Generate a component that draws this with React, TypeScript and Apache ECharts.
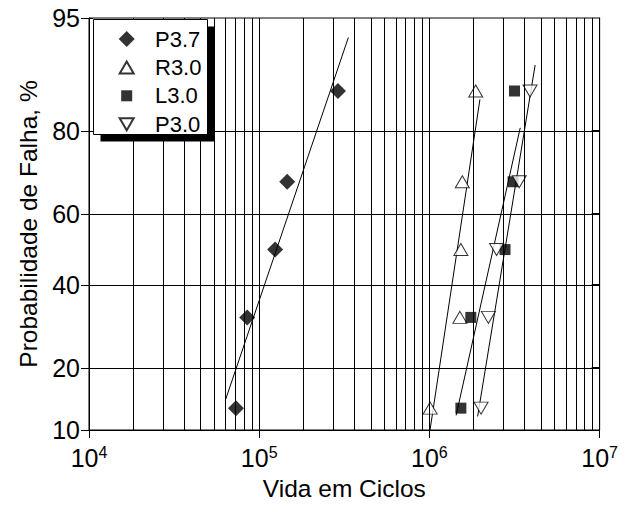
import React, { useEffect, useRef } from 'react';
import * as echarts from 'echarts';

// ---- data ----
const X_MIN = 1e4;
const X_MAX = 1e7;
const Y_MIN_P = 10;
const Y_MAX_P = 95;
const Y_TICKS = [10, 20, 40, 60, 80, 95];
const H_GRID = [20, 40, 60, 80];
const GRID_MULTIPLIERS = [1, 2, 3, 4, 5, 6, 7, 8, 9];
const GRID_DECADES = [4, 5, 6, 7];
const GRID_OFFSET = 0.906; // minor grid of the original is slightly shifted
const MAJOR_LINES = [1e5, 1e6];

const SERIES_NAMES = ['P3.7', 'R3.0', 'L3.0', 'P3.0'];
const PROB = [13, 31.5, 50, 68.5, 87];
const CYCLES_P37 = [73000, 85000, 124000, 146000, 290000];
const CYCLES_R30 = [1010000, 1510000, 1530000, 1560000, 1870000];
const CYCLES_L30 = [1530000, 1750000, 2780000, 3100000, 3160000];
const CYCLES_P30 = [2010000, 2220000, 2480000, 3370000, 3900000];

const FIT_P37_X = [63400, 334000];
const FIT_P37_P = [14.3, 93.4];
const FIT_R30_X = [1008000, 1980000];
const FIT_R30_P = [10, 85.7];
const FIT_L30_X = [1435000, 3416000];
const FIT_L30_P = [11.95, 80.65];
const FIT_P30_X = [1919000, 4178000];
const FIT_P30_P = [11.8, 90.5];

const FONT = '"Liberation Sans", Arial, Helvetica, sans-serif';

// inverse normal CDF (normal probability scale)
function probit(p: number): number {
  const a = [-3.969683028665376e1, 2.209460984245205e2, -2.759285104469687e2, 1.38357751867269e2, -3.066479806614716e1, 2.506628277459239];
  const b = [-5.447609879822406e1, 1.615858368580409e2, -1.556989798598866e2, 6.680131188771972e1, -1.328068155288572e1];
  const c = [-7.784894002430293e-3, -3.223964580411365e-1, -2.400758277161838, -2.549732539343734, 4.374664141464968, 2.938163982698783];
  const d = [7.784695709041462e-3, 3.224671290700398e-1, 2.445134137142996, 3.754408661907416];
  const plow = 0.02425;
  const phigh = 1 - plow;
  if (p < plow) {
    const q = Math.sqrt(-2 * Math.log(p));
    return (((((c[0] * q + c[1]) * q + c[2]) * q + c[3]) * q + c[4]) * q + c[5]) / ((((d[0] * q + d[1]) * q + d[2]) * q + d[3]) * q + 1);
  }
  if (p <= phigh) {
    const q = p - 0.5;
    const r = q * q;
    return ((((((a[0] * r + a[1]) * r + a[2]) * r + a[3]) * r + a[4]) * r + a[5]) * q) / (((((b[0] * r + b[1]) * r + b[2]) * r + b[3]) * r + b[4]) * r + 1);
  }
  const q = Math.sqrt(-2 * Math.log(1 - p));
  return -(((((c[0] * q + c[1]) * q + c[2]) * q + c[3]) * q + c[4]) * q + c[5]) / ((((d[0] * q + d[1]) * q + d[2]) * q + d[3]) * q + 1);
}
const pz = (pct: number) => probit(pct / 100);

export default function App() {
  const ref = useRef<HTMLDivElement>(null);

  useEffect(() => {
    if (!ref.current) return;
    const chart = echarts.init(ref.current, undefined, { renderer: 'svg' });

    const zMin = pz(Y_MIN_P);
    const zMax = pz(Y_MAX_P);
    const yTickZ = Y_TICKS.map(pz);
    const hGridZ = H_GRID.map(pz);

    const vGrid: number[] = [];
    GRID_DECADES.forEach((e) => {
      GRID_MULTIPLIERS.forEach((k) => {
        const v = k * Math.pow(10, e) * GRID_OFFSET;
        if (v > X_MIN && v < X_MAX) vGrid.push(v);
      });
    });
    MAJOR_LINES.forEach((v) => vGrid.push(v));

    const yLabel = (val: number) => {
      let best = 0;
      let bd = Infinity;
      yTickZ.forEach((z, i) => {
        const dd = Math.abs(z - val);
        if (dd < bd) {
          bd = dd;
          best = i;
        }
      });
      return String(Y_TICKS[best]);
    };

    const scatterData = (xs: number[]) => xs.map((x, i) => [x, pz(PROB[i])]);
    const fitData = (xs: number[], ps: number[]) => xs.map((x, i) => [x, pz(ps[i])]);

    const hollow = { color: '#fff', borderColor: '#000', borderWidth: 1 };

    const fitSeries = (name: string, xs: number[], ps: number[]) => ({
      name,
      type: 'line',
      data: fitData(xs, ps),
      showSymbol: false,
      symbol: 'none',
      lineStyle: { color: '#000', width: 1 },
      z: 2,
      silent: true,
    });

    // icons drawn in a 16x16 box (leading moveTo's fix the box size)
    const legendIcons: Record<string, string> = {
      'P3.7': 'path://M8,0L16,8L8,16L0,8Z',
      'R3.0': 'path://M0,0M16,16M1,14L8,2L15,14Z',
      'L3.0': 'path://M0,0M16,16M2.5,2.5L13.5,2.5L13.5,13.5L2.5,13.5Z',
      'P3.0': 'path://M0,0M16,16M1,2L15,2L8,14Z',
    };

    const option: any = {
      animation: false,
      backgroundColor: '#fff',
      textStyle: { fontFamily: FONT },
      grid: {
        left: 89,
        top: 18,
        width: 515,
        height: 414,
        show: true,
        borderColor: '#000',
        borderWidth: 1,
        backgroundColor: 'transparent',
      },
      legend: {
        show: true,
        orient: 'vertical',
        left: 117.7,
        top: 28,
        itemWidth: 16,
        itemHeight: 16,
        itemGap: 6.4,
        padding: 0,
        selectedMode: false,
        z: 11,
        formatter: (name: string) => `{t|${name}}`,
        textStyle: {
          color: '#000',
          fontFamily: FONT,
          rich: { t: { fontSize: 22, lineHeight: 20, color: '#000', fontFamily: FONT, padding: [0, 0, 0, 15.3] } },
        },
        data: SERIES_NAMES.map((n) => ({ name: n, icon: legendIcons[n] })),
      },
      graphic: [
        { type: 'rect', shape: { x: 100.5, y: 26.5, width: 114, height: 115 }, style: { fill: '#000' }, z: 9 },
        { type: 'rect', shape: { x: 93.5, y: 19.5, width: 114, height: 115 }, style: { fill: '#fff', stroke: '#000', lineWidth: 1 }, z: 10 },
      ],
      xAxis: [
        {
          type: 'log',
          logBase: 10,
          min: X_MIN,
          max: X_MAX,
          position: 'bottom',
          axisLine: { show: true, onZero: false, lineStyle: { color: '#000', width: 1 } },
          axisTick: { show: true, inside: false, length: 8, lineStyle: { color: '#000', width: 1 } },
          splitLine: { show: false },
          axisLabel: {
            margin: 14,
            color: '#000',
            formatter: (v: number) => `{b|10}{s|${Math.round(Math.log10(v))}}`,
            rich: {
              b: { fontSize: 25, lineHeight: 28, color: '#000', fontFamily: FONT },
              s: { fontSize: 16, lineHeight: 16, verticalAlign: 'top', color: '#000', fontFamily: FONT },
            },
          },
          name: 'Vida em Ciclos',
          nameLocation: 'middle',
          nameGap: 46,
          nameTextStyle: { fontSize: 24.5, color: '#000', fontFamily: FONT },
        },
        {
          type: 'log',
          logBase: 10,
          min: X_MIN,
          max: X_MAX,
          position: 'bottom',
          axisLine: { show: false, onZero: false },
          axisTick: { show: true, inside: true, length: 4, lineStyle: { color: '#000', width: 1 } },
          axisLabel: { show: false },
          splitLine: { show: false },
        },
      ],
      yAxis: [
        {
          type: 'value',
          min: zMin,
          max: zMax,
          position: 'left',
          axisLine: { show: true, onZero: false, lineStyle: { color: '#000', width: 1 } },
          axisTick: { show: true, inside: false, length: 8, customValues: yTickZ, lineStyle: { color: '#000', width: 1 } },
          axisLabel: { customValues: yTickZ, formatter: yLabel, fontSize: 25, margin: 9, color: '#000', fontFamily: FONT },
          splitLine: { show: false },
          name: 'Probabilidade de Falha, %',
          nameLocation: 'middle',
          nameGap: 47,
          nameTextStyle: { fontSize: 24.5, color: '#000', fontFamily: FONT },
        },
        {
          type: 'value',
          min: zMin,
          max: zMax,
          position: 'left',
          axisLine: { show: false, onZero: false },
          axisTick: { show: true, inside: true, length: 4, customValues: yTickZ, lineStyle: { color: '#000', width: 1 } },
          axisLabel: { show: false },
          splitLine: { show: false },
        },
        {
          type: 'value',
          min: zMin,
          max: zMax,
          position: 'right',
          axisLine: { show: true, onZero: false, lineStyle: { color: '#000', width: 1 } },
          axisTick: { show: true, inside: true, length: 8, customValues: hGridZ, lineStyle: { color: '#000', width: 2 } },
          axisLabel: { show: false },
          splitLine: { show: false },
        },
      ],
      series: [
        {
          name: 'grid',
          type: 'line',
          data: [],
          z: 1,
          silent: true,
          markLine: {
            silent: true,
            symbol: ['none', 'none'],
            label: { show: false },
            lineStyle: { color: '#000', width: 1, type: 'solid' },
            emphasis: { disabled: true },
            data: [
              ...vGrid.map((v) => ({ xAxis: v })),
              ...hGridZ.map((z) => ({ yAxis: z })),
            ],
          },
        },
        fitSeries('fit P3.7', FIT_P37_X, FIT_P37_P),
        fitSeries('fit R3.0', FIT_R30_X, FIT_R30_P),
        fitSeries('fit L3.0', FIT_L30_X, FIT_L30_P),
        fitSeries('fit P3.0', FIT_P30_X, FIT_P30_P),
        {
          name: 'P3.7',
          type: 'scatter',
          symbol: 'diamond',
          symbolSize: 16,
          itemStyle: { color: '#000' },
          data: scatterData(CYCLES_P37),
          z: 3,
        },
        {
          name: 'R3.0',
          type: 'scatter',
          symbol: 'triangle',
          symbolSize: [14, 12],
          itemStyle: hollow,
          data: scatterData(CYCLES_R30),
          z: 3,
        },
        {
          name: 'L3.0',
          type: 'scatter',
          symbol: 'rect',
          symbolSize: 11,
          itemStyle: { color: '#000' },
          data: scatterData(CYCLES_L30),
          z: 3,
        },
        {
          name: 'P3.0',
          type: 'scatter',
          symbol: 'triangle',
          symbolRotate: 180,
          symbolSize: [14, 12],
          itemStyle: hollow,
          data: scatterData(CYCLES_P30),
          z: 3,
        },
      ],
    };

    chart.setOption(option);
    return () => chart.dispose();
  }, []);

  return <div ref={ref} style={{ position: 'absolute', left: 0, top: 0, width: 621, height: 506, background: '#fff' }} />;
}
